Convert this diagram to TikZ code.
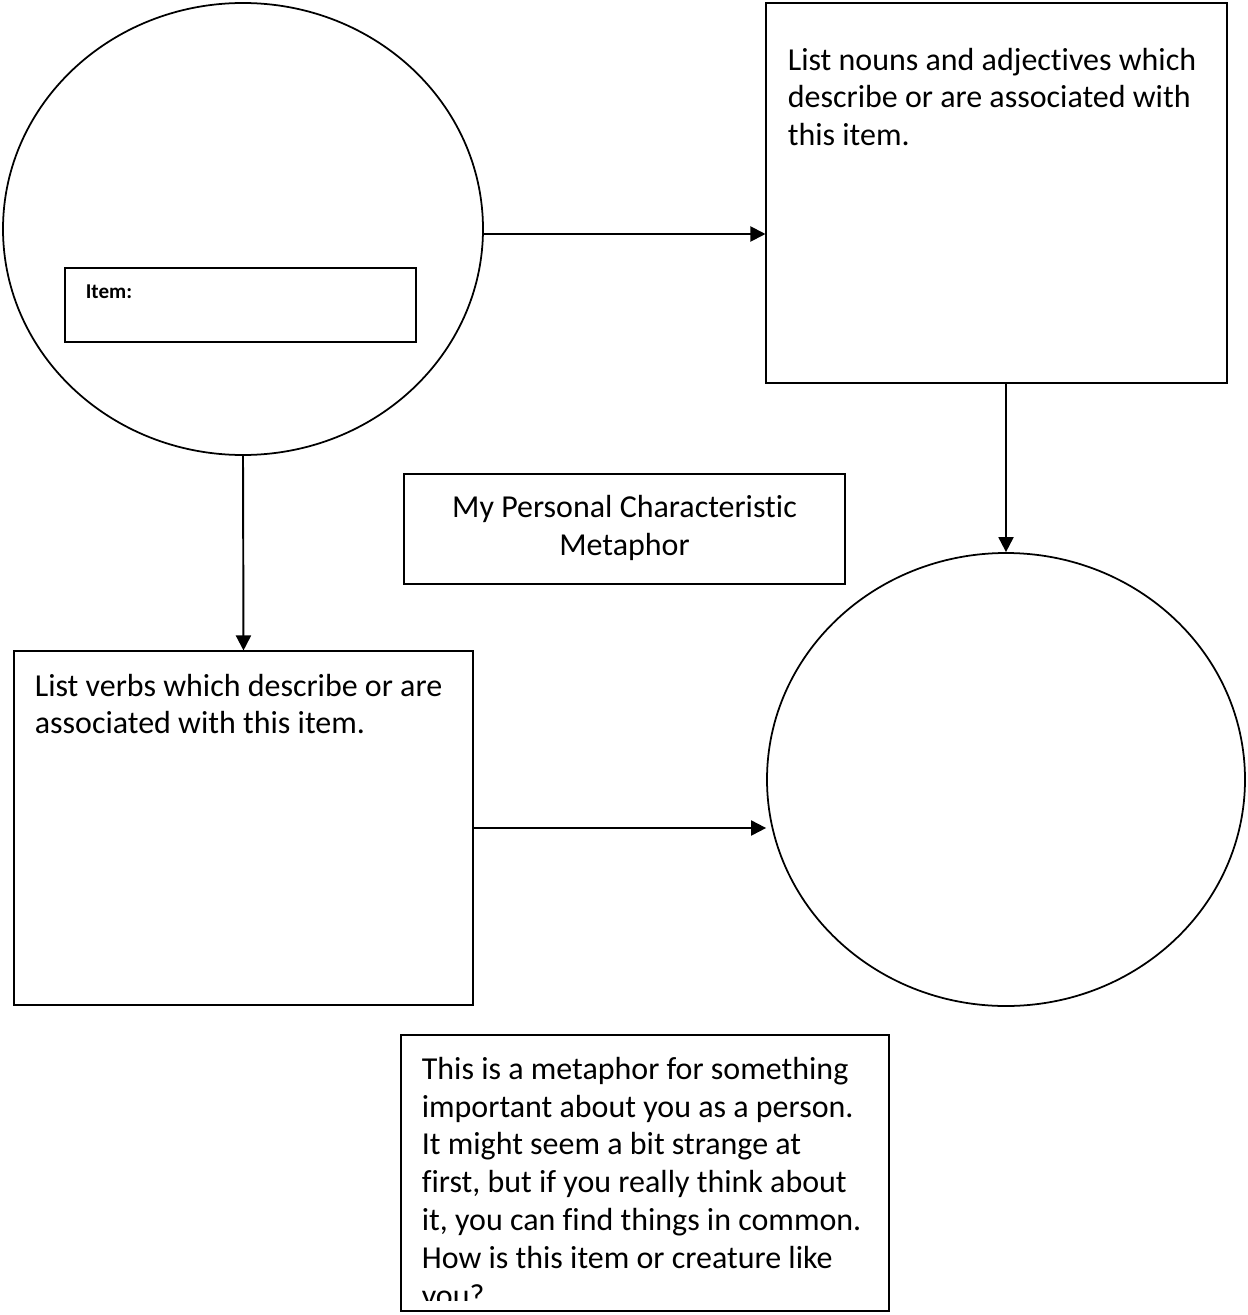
\documentclass[tikz,border=0pt]{standalone}
\usepackage{fontspec}
\setmainfont{Carlito}[Ligatures={NoCommon}]
\usepackage{tikz}
\usetikzlibrary{arrows.meta,shapes.geometric}

\begin{document}
\begin{tikzpicture}[line join=miter,
        oval/.style={draw, ellipse, line width=1pt, inner sep=0pt},
        box/.style={draw, rectangle, line width=0.6pt, inner sep=0pt},
        txt/.style={inner sep=0pt, align=left, font=\fontsize{18.2}{21.6}\selectfont},
        arr/.style={-{Triangle[length=0.3cm, width=0.3cm]}, line width=1.1pt},
    ]
    \useasboundingbox (0,0) rectangle (24.94,-26.30);

    % Item circle
    \node[oval, minimum width=9.6cm, minimum height=9.04cm] (item_c) at (4.86,-4.58) {};
    \node[box, minimum width=7.02cm, minimum height=1.48cm] (item) at (4.81,-6.10) {};
    \node[inner sep=0pt, anchor=north west, font=\fontsize{12}{14}\selectfont\bfseries] (item_t)
        at ([xshift=0.42cm, yshift=-0.34cm]item.north west) {Item:};

    % Nouns and adjectives
    \node[box, minimum width=9.22cm, minimum height=7.6cm] (nouns) at (19.93,-3.86) {};
    \node[txt, anchor=north west] (nouns_t) at ([xshift=0.44cm, yshift=-0.9cm]nouns.north west)
        {List nouns and adjectives which\\ describe or are associated with\\ this item.};

    % Title
    \node[box, minimum width=8.82cm, minimum height=2.2cm] (title) at (12.49,-10.58) {};
    \node[txt, align=center] (title_t) at ([yshift=0.02cm]title.center)
        {My Personal Characteristic\\ Metaphor};

    % Verbs
    \node[box, minimum width=9.18cm, minimum height=7.08cm] (verbs) at (4.87,-16.56) {};
    \node[txt, anchor=north west] (verbs_t) at ([xshift=0.42cm, yshift=-0.46cm]verbs.north west)
        {List verbs which describe or are\\ associated with this item.};

    % Metaphor circle
    \node[oval, minimum width=9.56cm, minimum height=9.06cm] (meta_c) at (20.12,-15.59) {};

    % Note, its last line cut off by the box
    \node[box, minimum width=9.76cm, minimum height=5.52cm] (note) at (12.90,-23.46) {};
    \begin{scope}
        \clip ([yshift=0.22cm]note.south west) rectangle (note.north east);
        \node[txt, anchor=north west] (note_t) at ([xshift=0.42cm, yshift=-0.44cm]note.north west)
            {This is a metaphor for something\\ important about you as a person.\\
             It might seem a bit strange at\\ first, but if you really think about\\
             it, you can find things in common.\\ How is this item or creature like\\ you?};
    \end{scope}

    % Arrows
    \draw[arr] ([yshift=-0.1cm]item_c.east) -- ([yshift=-0.1cm]item_c.east -| nouns.west);
    \draw[arr] (nouns.south -| meta_c.north) -- (meta_c.north);
    \draw[arr] (item_c.south) -- (verbs.north);
    \draw[arr] (verbs.east) -- (verbs.east -| meta_c.west);

\end{tikzpicture}
\end{document}
